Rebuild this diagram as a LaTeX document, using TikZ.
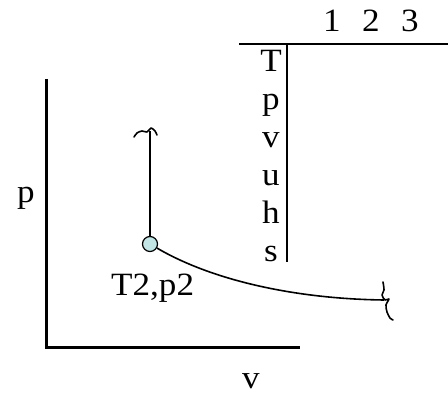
\documentclass[tikz,border=0pt]{standalone}
\usepackage{fontspec}
\setmainfont[FakeStretch=1.08]{Liberation Serif}
\definecolor{ptfill}{RGB}{194,230,230}
\begin{document}
\begin{tikzpicture}[x=1pt,y=-1pt,
  lbl/.style={font=\fontsize{32.5}{38}\selectfont, anchor=base, inner sep=0pt},
  axis/.style={line width=3pt},
  tline/.style={line width=1.5pt},
  proc/.style={line width=1.6pt},
  state/.style={circle, draw, line width=1.2pt, fill=ptfill, minimum size=15pt, inner sep=0pt}]
\useasboundingbox (0,0) rectangle (448,395);
% axes
\coordinate (ytop) at (46,79);
\coordinate (org) at (46,348);
\coordinate (xend) at (300,348);
\draw[axis, line cap=butt] (ytop) -- (org) -- (xend);
\node[lbl] (plab) at (26,203) {p};
\node[lbl] (vlab) at (251,389) {v};
% table
\coordinate (tl) at (239,44);
\coordinate (tr) at (448,44);
\coordinate (vt) at (287,44);
\coordinate (vb) at (287,262);
\draw[tline] (tl) -- (tr);
\draw[tline] (vt) -- (vb);
\node[lbl] (c1) at (332,32) {1};
\node[lbl] (c2) at (371,32) {2};
\node[lbl] (c3) at (410,32) {3};
\node[lbl] (rT) at (271,72) {T};
\node[lbl] (rp) at (271,110) {p};
\node[lbl] (rv) at (271,148) {v};
\node[lbl] (ru) at (271,186) {u};
\node[lbl] (rh) at (271,224) {h};
\node[lbl] (rs) at (271,262) {s};
% process
\node[state] (s2) at (150,244) {};
\coordinate (top) at (150,131);
\coordinate (endp) at (384,300);
\draw[proc] (s2) -- (top);
\draw[proc] (s2) .. controls (215,282) and (300,299) .. (endp);
\draw[proc, line cap=round, line join=round] plot[smooth] coordinates {(134,137) (137,133) (142,131) (147,132) (151,128) (155,131) (157,135)};
\draw[proc, line cap=round, line join=round] plot[smooth] coordinates {(383,282) (384,290) (382,295) (385,300) (389,299) (386,305) (387,312) (390,318) (393,320)};
\node[lbl, anchor=base west] (st) at (111,296) {T2,p2};
\end{tikzpicture}
\end{document}
